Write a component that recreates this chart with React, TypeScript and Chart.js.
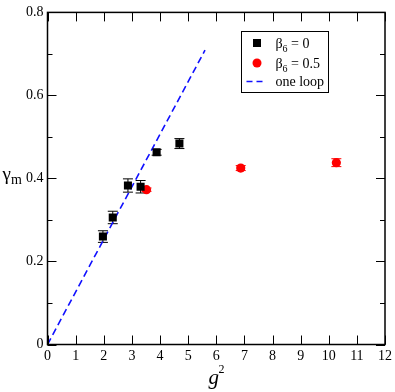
import React, { useEffect, useRef } from "react";
import { Chart, registerables } from "chart.js";

Chart.register(...registerables);

const blackX = [1.97, 2.32, 2.86, 3.31, 3.88, 4.69];
const blackY = [0.26, 0.306, 0.383, 0.38, 0.463, 0.484];
const blackErr = [0.014, 0.015, 0.016, 0.015, 0.007, 0.012];

const redX = [3.52, 6.87, 10.27];
const redY = [0.373, 0.425, 0.438];
const redErr = [0.004, 0.006, 0.0095];

const loopX = [0, 5.6];
const loopY = [0, 0.709];

const xTicks = [0, 1, 2, 3, 4, 5, 6, 7, 8, 9, 10, 11, 12];
const yTicks = [0, 0.2, 0.4, 0.6, 0.8];
const yMinorTicks = [0.1, 0.3, 0.5, 0.7];

const legendLabels = [
  { sym: "β", sub: "6", rest: " = 0" },
  { sym: "β", sub: "6", rest: " = 0.5" },
  { sym: "", sub: "", rest: "one loop" },
];

const SERIF = '"Liberation Serif", "Times New Roman", Times, serif';
const BLUE = "#1010ff";

const errs: Record<number, number[]> = { 0: blackErr, 1: redErr };
const errColors: Record<number, string> = { 0: "#000", 1: "#ff0000" };

const framePlugin = {
  id: "frame",
  beforeDatasetsDraw(chart: any) {
    const ctx = chart.ctx;
    const xs = chart.scales.x;
    const ys = chart.scales.y;
    ctx.save();
    [0, 1].forEach((di) => {
      const ds = chart.data.datasets[di];
      ctx.strokeStyle = errColors[di];
      ctx.lineWidth = 1;
      ds.data.forEach((p: any, i: number) => {
        const e = errs[di][i];
        const px = xs.getPixelForValue(p.x);
        const y1 = ys.getPixelForValue(p.y + e);
        const y2 = ys.getPixelForValue(p.y - e);
        ctx.beginPath();
        ctx.moveTo(px, y1);
        ctx.lineTo(px, y2);
        ctx.moveTo(px - 5, y1);
        ctx.lineTo(px + 5, y1);
        ctx.moveTo(px - 5, y2);
        ctx.lineTo(px + 5, y2);
        ctx.stroke();
      });
    });
    ctx.restore();
  },
  afterDraw(chart: any) {
    const ctx = chart.ctx;
    const a = chart.chartArea;
    const xs = chart.scales.x;
    const ys = chart.scales.y;
    ctx.save();
    ctx.strokeStyle = "#000";
    ctx.lineWidth = 1.5;
    ctx.strokeRect(a.left, a.top, a.right - a.left, a.bottom - a.top);
    ctx.lineWidth = 1;
    ctx.beginPath();
    xTicks.forEach((v) => {
      const px = Math.round(xs.getPixelForValue(v)) + 0.5;
      ctx.moveTo(px, a.bottom);
      ctx.lineTo(px, a.bottom - 9);
      ctx.moveTo(px, a.top);
      ctx.lineTo(px, a.top + 9);
    });
    yTicks.forEach((v) => {
      const py = Math.round(ys.getPixelForValue(v)) + 0.5;
      ctx.moveTo(a.left, py);
      ctx.lineTo(a.left + 9, py);
      ctx.moveTo(a.right, py);
      ctx.lineTo(a.right - 9, py);
    });
    yMinorTicks.forEach((v) => {
      const py = Math.round(ys.getPixelForValue(v)) + 0.5;
      ctx.moveTo(a.left, py);
      ctx.lineTo(a.left + 5, py);
      ctx.moveTo(a.right, py);
      ctx.lineTo(a.right - 5, py);
    });
    ctx.stroke();

    // legend
    const lx = 241.5, ly = 31.5, lw = 87, lh = 61;
    ctx.lineWidth = 1;
    ctx.fillStyle = "#fff";
    ctx.fillRect(lx, ly, lw, lh);
    ctx.strokeRect(lx, ly, lw, lh);
    const rows = [43, 63, 81.5];
    ctx.fillStyle = "#000";
    ctx.fillRect(253, rows[0] - 4, 8, 8);
    ctx.fillStyle = "#ff0000";
    ctx.beginPath();
    ctx.arc(257, rows[1], 4.5, 0, Math.PI * 2);
    ctx.fill();
    ctx.strokeStyle = BLUE;
    ctx.lineWidth = 1.5;
    ctx.setLineDash([6, 4]);
    ctx.beginPath();
    ctx.moveTo(246.5, rows[2]);
    ctx.lineTo(266, rows[2]);
    ctx.stroke();
    ctx.setLineDash([]);
    ctx.fillStyle = "#000";
    ctx.textBaseline = "alphabetic";
    ctx.textAlign = "left";
    legendLabels.forEach((lab, i) => {
      let x = 275.5;
      const base = rows[i] + 4.5;
      ctx.font = `14px ${SERIF}`;
      if (lab.sym) {
        ctx.fillText(lab.sym, x, base);
        x += ctx.measureText(lab.sym).width;
        ctx.font = `10px ${SERIF}`;
        ctx.fillText(lab.sub, x, base + 4);
        x += ctx.measureText(lab.sub).width;
        ctx.font = `14px ${SERIF}`;
      }
      ctx.fillText(lab.rest, x, base);
    });

    // axis titles
    ctx.font = `italic 21px ${SERIF}`;
    ctx.fillText("g", 208.5, 383.5);
    ctx.font = `12px ${SERIF}`;
    ctx.fillText("2", 218.5, 373);
    ctx.font = `19px ${SERIF}`;
    ctx.fillText("γ", 2.5, 179.5);
    const gw = ctx.measureText("γ").width;
    ctx.font = `14px ${SERIF}`;
    ctx.fillText("m", 2.5 + gw, 183.5);
    ctx.restore();
  },
};

export default function App() {
  const ref = useRef<HTMLCanvasElement | null>(null);
  useEffect(() => {
    if (!ref.current) return;
    const chart = new Chart(ref.current, {
      type: "scatter",
      data: {
        datasets: [
          {
            label: "β6 = 0",
            data: blackX.map((x, i) => ({ x, y: blackY[i] })),
            pointStyle: "rect",
            pointRadius: 5.7,
            backgroundColor: "#000",
            borderColor: "#000",
            borderWidth: 0,
            order: 1,
          },
          {
            label: "β6 = 0.5",
            data: redX.map((x, i) => ({ x, y: redY[i] })),
            pointStyle: "circle",
            pointRadius: 4.6,
            backgroundColor: "#ff0000",
            borderColor: "#ff0000",
            borderWidth: 0,
            order: 1,
          },
          {
            type: "line",
            label: "one loop",
            data: loopX.map((x, i) => ({ x, y: loopY[i] })),
            borderColor: BLUE,
            borderWidth: 1.6,
            borderDash: [7, 4],
            pointRadius: 0,
            fill: false,
            order: 2,
          } as any,
        ],
      },
      options: {
        responsive: false,
        animation: false,
        layout: { padding: { left: 0, right: 8, top: 5.5, bottom: 0 } },
        plugins: { legend: { display: false }, tooltip: { enabled: false } },
        scales: {
          x: {
            type: "linear",
            min: 0,
            max: 12,
            afterFit: (s: any) => {
              s.height = 47.5;
            },
            afterBuildTicks: (s: any) => {
              s.ticks = xTicks.map((v) => ({ value: v }));
            },
            ticks: {
              font: { family: SERIF, size: 14 },
              color: "#000",
              padding: 3,
              maxRotation: 0,
              autoSkip: false,
              callback: (v: any) => String(v),
            },
            grid: { display: false, drawTicks: false },
            border: { display: false },
          },
          y: {
            type: "linear",
            min: 0,
            max: 0.8,
            afterFit: (s: any) => {
              s.width = 47.5;
            },
            afterBuildTicks: (s: any) => {
              s.ticks = yTicks.map((v) => ({ value: v }));
            },
            ticks: {
              font: { family: SERIF, size: 14 },
              color: "#000",
              padding: 4,
              autoSkip: false,
              callback: (v: any) => String(Math.round(Number(v) * 10) / 10),
            },
            grid: { display: false, drawTicks: false },
            border: { display: false },
          },
        },
      },
      plugins: [framePlugin],
    });
    let alive = true;
    if ((document as any).fonts) {
      Promise.all([
        document.fonts.load('14px "Liberation Serif"'),
        document.fonts.load('italic 20px "Liberation Serif"'),
      ]).then(() => {
        if (alive) chart.update();
      }).catch(() => {});
    }
    return () => {
      alive = false;
      chart.destroy();
    };
  }, []);
  return (
    <div style={{ position: "absolute", left: 0, top: 0, width: 395, height: 392, background: "#fff" }}>
      <span style={{ fontFamily: '"Liberation Serif"', position: "absolute", visibility: "hidden" }}>x</span>
      <span style={{ fontFamily: '"Liberation Serif"', fontStyle: "italic", position: "absolute", visibility: "hidden" }}>g</span>
      <canvas ref={ref} width={395} height={392} style={{ display: "block" }} />
    </div>
  );
}
